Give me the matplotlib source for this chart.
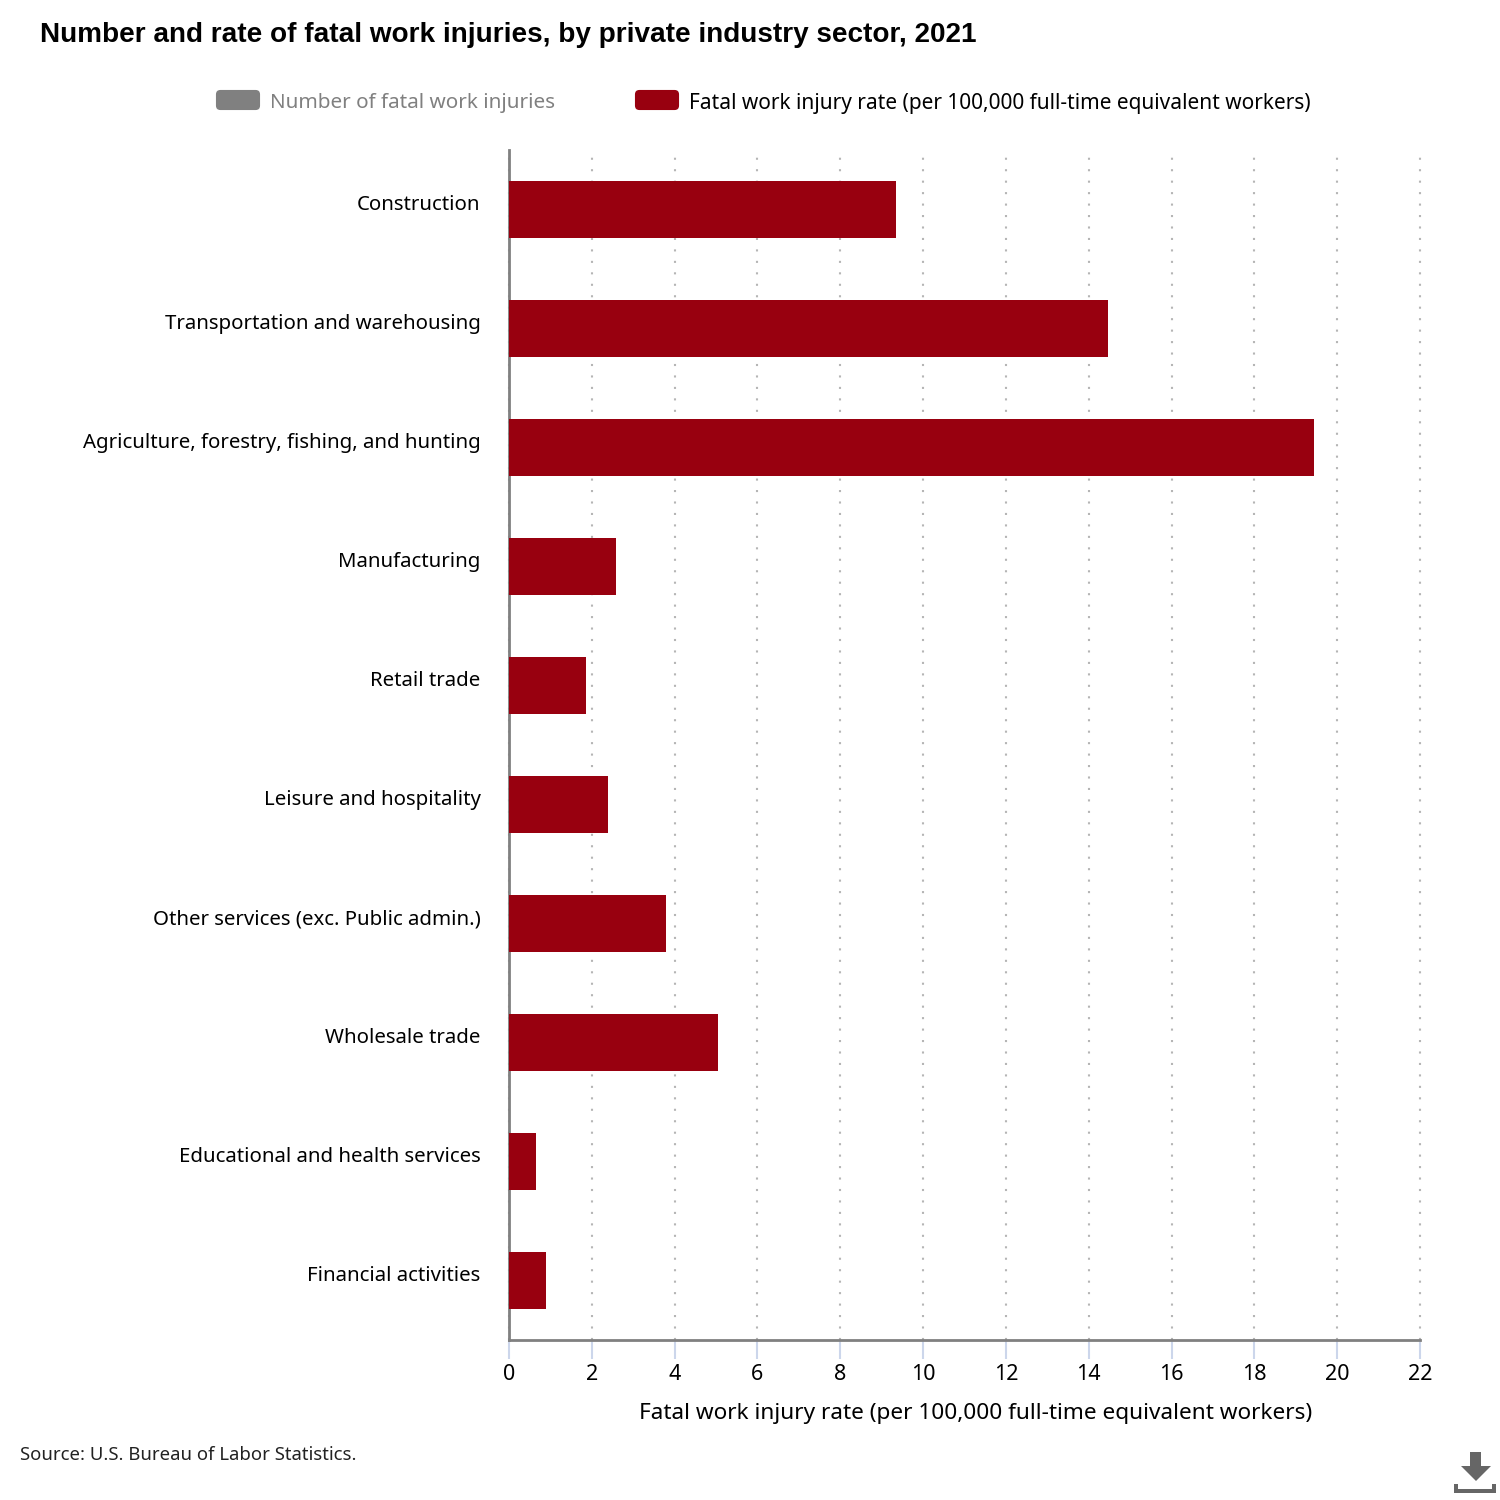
import matplotlib
matplotlib.use("Agg")
import matplotlib.pyplot as plt
from matplotlib.patches import FancyBboxPatch, Polygon
from matplotlib.transforms import ScaledTranslation

categories = ["Construction", "Transportation and warehousing",
              "Agriculture, forestry, fishing, and hunting", "Manufacturing",
              "Retail trade", "Leisure and hospitality",
              "Other services (exc. Public admin.)", "Wholesale trade",
              "Educational and health services", "Financial activities"]
rates = [9.35, 14.47, 19.45, 2.58, 1.87, 2.4, 3.8, 5.05, 0.65, 0.9]
xticks = list(range(0, 24, 2))

RED = "#98000f"
GREY = "#808080"
W = H = 1500
plt.rcParams['font.family'] = ['Noto Sans', 'DejaVu Sans']


def fx(px):
    return px / W


def fy(px):
    return 1 - px / H


fig = plt.figure(figsize=(15, 15), dpi=100, facecolor="white")
ax = fig.add_axes([fx(509), fy(1340), fx(1420 - 509), (1340 - 150) / H])

ypos = list(range(len(categories)))
ax.barh(ypos, rates, height=0.487, color=RED, zorder=3)
ax.set_ylim(len(categories) - 0.5, -0.5)
ax.set_xlim(0, 22)

ax.set_xticks(xticks)
ax.set_yticks(ypos)
ax.set_yticklabels(categories)
ax.tick_params(axis="y", length=0, pad=20.5, labelsize=14.7, labelcolor="black")
ax.tick_params(axis="x", length=14, width=1.5, color="#ccd6eb", pad=3, labelsize=15.5,
               labelcolor="black")
ax.grid(axis="x", color="#b5b5b5", linestyle=(0, (1, 4.5)), linewidth=1.5, clip_on=False)
ax.set_axisbelow(True)

# labels sit a little above the bar centres in the original
shift = ScaledTranslation(0, 5 / 72, fig.dpi_scale_trans)
for lab in ax.get_yticklabels():
    lab.set_transform(lab.get_transform() + shift)

for s in ["top", "right"]:
    ax.spines[s].set_visible(False)
for s in ["left", "bottom"]:
    ax.spines[s].set_color(GREY)
    ax.spines[s].set_linewidth(2)

fig.text(fx(1312), fy(1413), "Fatal work injury rate (per 100,000 full-time equivalent workers)",
         ha="right", va="center", fontsize=16.25, color="black")
fig.text(fx(40), fy(35), "Number and rate of fatal work injuries, by private industry sector, 2021",
         ha="left", va="center", fontsize=20.05, fontweight="bold", family="Liberation Sans", color="black")
fig.text(fx(20), fy(1455), "Source: U.S. Bureau of Labor Statistics.",
         ha="left", va="center", fontsize=13.35, color="#222222")

# legend, placed by hand
for x0, col, label, tcol, size in [(216, GREY, "Number of fatal work injuries", GREY, 14.9),
                                   (635, RED, "Fatal work injury rate (per 100,000 full-time equivalent workers)", "black", 15)]:
    fig.add_artist(FancyBboxPatch((fx(x0 + 4), fy(106)), 36 / W, 12 / H,
                                  boxstyle="round,pad=0.0027,rounding_size=0.003",
                                  transform=fig.transFigure, facecolor=col, edgecolor="none"))
    fig.text(fx(x0 + 54), fy(103), label, ha="left", va="center", fontsize=size, color=tcol)

# download icon
ICON = "#666666"
fig.add_artist(Polygon([(fx(1470), fy(1452)), (fx(1481), fy(1452)), (fx(1481), fy(1466)),
                        (fx(1491), fy(1466)), (fx(1476), fy(1481)), (fx(1461), fy(1466)),
                        (fx(1470), fy(1466))], closed=True, transform=fig.transFigure,
                       facecolor=ICON, edgecolor="none"))
fig.add_artist(Polygon([(fx(1454), fy(1484)), (fx(1458), fy(1484)), (fx(1458), fy(1489)),
                        (fx(1492), fy(1489)), (fx(1492), fy(1484)), (fx(1496), fy(1484)),
                        (fx(1496), fy(1493)), (fx(1454), fy(1493))], closed=True,
                       transform=fig.transFigure, facecolor=ICON, edgecolor="none"))

fig.savefig("out.png", dpi=100)
